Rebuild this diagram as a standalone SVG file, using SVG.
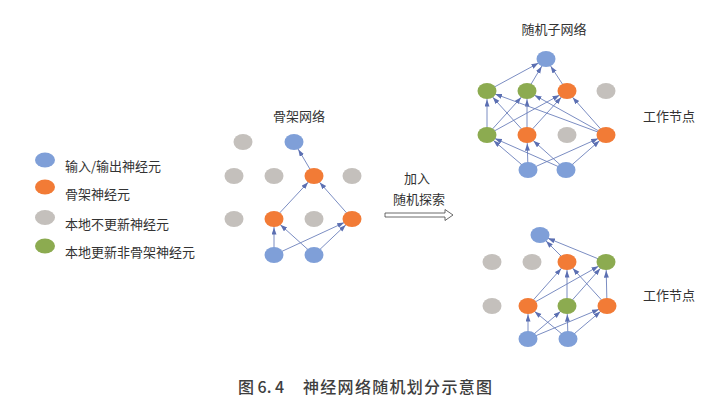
<svg xmlns="http://www.w3.org/2000/svg" width="718" height="411" viewBox="0 0 718 411">
<style>
.b{fill:#7f9fd8}.o{fill:#f27b36}.g{fill:#c4c0bc}.n{fill:#8cab50}
.t{font-family:"Noto Sans CJK SC","Noto Sans",sans-serif;fill:#333;font-size:13px}
.e line{stroke:#6c80bb;stroke-width:0.9;marker-end:url(#ah)}
</style>
<defs>
<marker id="ah" markerUnits="userSpaceOnUse" markerWidth="8" markerHeight="6" refX="15.6" refY="2.5" orient="auto">
<path d="M0,0 L7,2.5 L0,5 Z" fill="#5b6fb2"/>
</marker>
</defs>
<rect width="718" height="411" fill="#fff"/>
<g id="connectors" class="e">
<line x1="314" y1="176" x2="294" y2="142"/>
<line x1="274" y1="219" x2="314" y2="176"/>
<line x1="352" y1="219" x2="314" y2="176"/>
<line x1="274" y1="255" x2="274" y2="219"/>
<line x1="274" y1="255" x2="352" y2="219"/>
<line x1="314" y1="255" x2="274" y2="219"/>
<line x1="314" y1="255" x2="352" y2="219"/>
<line x1="487" y1="91" x2="546" y2="59"/>
<line x1="527" y1="91" x2="546" y2="59"/>
<line x1="567" y1="91" x2="546" y2="59"/>
<line x1="487" y1="135" x2="487" y2="91"/>
<line x1="487" y1="135" x2="527" y2="91"/>
<line x1="487" y1="135" x2="567" y2="91"/>
<line x1="527" y1="135" x2="487" y2="91"/>
<line x1="527" y1="135" x2="527" y2="91"/>
<line x1="527" y1="135" x2="567" y2="91"/>
<line x1="606" y1="135" x2="487" y2="91"/>
<line x1="606" y1="135" x2="527" y2="91"/>
<line x1="606" y1="135" x2="567" y2="91"/>
<line x1="528" y1="170" x2="487" y2="135"/>
<line x1="528" y1="170" x2="527" y2="135"/>
<line x1="528" y1="170" x2="606" y2="135"/>
<line x1="566" y1="170" x2="487" y2="135"/>
<line x1="566" y1="170" x2="527" y2="135"/>
<line x1="566" y1="170" x2="606" y2="135"/>
<line x1="567" y1="262" x2="540" y2="235"/>
<line x1="606" y1="262" x2="540" y2="235"/>
<line x1="528" y1="306" x2="567" y2="262"/>
<line x1="528" y1="306" x2="606" y2="262"/>
<line x1="567" y1="306" x2="567" y2="262"/>
<line x1="567" y1="306" x2="606" y2="262"/>
<line x1="607" y1="306" x2="567" y2="262"/>
<line x1="607" y1="306" x2="606" y2="262"/>
<line x1="528" y1="339" x2="528" y2="306"/>
<line x1="528" y1="339" x2="567" y2="306"/>
<line x1="528" y1="339" x2="607" y2="306"/>
<line x1="568" y1="339" x2="528" y2="306"/>
<line x1="568" y1="339" x2="567" y2="306"/>
<line x1="568" y1="339" x2="607" y2="306"/>
</g>
<g id="legend">
<g id="leg-io"><ellipse class="b" cx="45" cy="160" rx="10" ry="7.5"/><text class="t" x="65" y="171">输入/输出神经元</text></g>
<g id="leg-backbone"><ellipse class="o" cx="45" cy="187" rx="10" ry="7.5"/><text class="t" x="65" y="199">骨架神经元</text></g>
<g id="leg-fixed"><ellipse class="g" cx="45" cy="217.5" rx="10" ry="7.5"/><text class="t" x="65" y="229">本地不更新神经元</text></g>
<g id="leg-update"><ellipse class="n" cx="45" cy="246" rx="10" ry="7.5"/><text class="t" x="65" y="257">本地更新非骨架神经元</text></g>
</g>
<g id="mid">
<text class="t" x="299" y="121" text-anchor="middle" font-size="14">骨架网络</text>
<g id="m1"><ellipse class="g" cx="243" cy="142" rx="9.5" ry="8"/></g>
<g id="m2"><ellipse class="b" cx="294" cy="142" rx="9.5" ry="8"/></g>
<g id="m3"><ellipse class="g" cx="234" cy="176" rx="9.5" ry="8"/></g>
<g id="m4"><ellipse class="g" cx="274" cy="176" rx="9.5" ry="8"/></g>
<g id="m5"><ellipse class="o" cx="314" cy="176" rx="9.5" ry="8"/></g>
<g id="m6"><ellipse class="g" cx="352" cy="176" rx="9.5" ry="8"/></g>
<g id="m7"><ellipse class="g" cx="234" cy="219" rx="9.5" ry="8"/></g>
<g id="m8"><ellipse class="o" cx="274" cy="219" rx="9.5" ry="8"/></g>
<g id="m9"><ellipse class="g" cx="314" cy="219" rx="9.5" ry="8"/></g>
<g id="m10"><ellipse class="o" cx="352" cy="219" rx="9.5" ry="8"/></g>
<g id="m11"><ellipse class="b" cx="274" cy="255" rx="9.5" ry="8"/></g>
<g id="m12"><ellipse class="b" cx="314" cy="255" rx="9.5" ry="8"/></g>
</g>
<g id="explore">
<text class="t" x="417" y="183" text-anchor="middle">加入</text>
<text class="t" x="419" y="204" text-anchor="middle">随机探索</text>
<path d="M385,213 L445,213 L445,209.5 L453,215 L445,220.5 L445,217 L385,217 Z" fill="#fff" stroke="#444" stroke-width="0.8"/>
</g>
<g id="top">
<text class="t" x="554" y="34" text-anchor="middle" font-size="14">随机子网络</text>
<text class="t" x="643" y="121">工作节点</text>
<g id="t1"><ellipse class="b" cx="546" cy="59" rx="9.5" ry="8"/></g>
<g id="t2"><ellipse class="n" cx="487" cy="91" rx="9.5" ry="8"/></g>
<g id="t3"><ellipse class="n" cx="527" cy="91" rx="9.5" ry="8"/></g>
<g id="t4"><ellipse class="o" cx="567" cy="91" rx="9.5" ry="8"/></g>
<g id="t5"><ellipse class="g" cx="606" cy="91" rx="9.5" ry="8"/></g>
<g id="t6"><ellipse class="n" cx="487" cy="135" rx="9.5" ry="8"/></g>
<g id="t7"><ellipse class="o" cx="527" cy="135" rx="9.5" ry="8"/></g>
<g id="t8"><ellipse class="g" cx="567" cy="135" rx="9.5" ry="8"/></g>
<g id="t9"><ellipse class="o" cx="606" cy="135" rx="9.5" ry="8"/></g>
<g id="t10"><ellipse class="b" cx="528" cy="170" rx="9.5" ry="8"/></g>
<g id="t11"><ellipse class="b" cx="566" cy="170" rx="9.5" ry="8"/></g>
</g>
<g id="bottom">
<text class="t" x="643" y="300">工作节点</text>
<g id="b1"><ellipse class="b" cx="540" cy="235" rx="9.5" ry="8"/></g>
<g id="b2"><ellipse class="g" cx="492" cy="262" rx="9.5" ry="8"/></g>
<g id="b3"><ellipse class="g" cx="532" cy="262" rx="9.5" ry="8"/></g>
<g id="b4"><ellipse class="o" cx="567" cy="262" rx="9.5" ry="8"/></g>
<g id="b5"><ellipse class="n" cx="606" cy="262" rx="9.5" ry="8"/></g>
<g id="b6"><ellipse class="g" cx="492" cy="306" rx="9.5" ry="8"/></g>
<g id="b7"><ellipse class="o" cx="528" cy="306" rx="9.5" ry="8"/></g>
<g id="b8"><ellipse class="n" cx="567" cy="306" rx="9.5" ry="8"/></g>
<g id="b9"><ellipse class="o" cx="607" cy="306" rx="9.5" ry="8"/></g>
<g id="b10"><ellipse class="b" cx="528" cy="339" rx="9.5" ry="8"/></g>
<g id="b11"><ellipse class="b" cx="568" cy="339" rx="9.5" ry="8"/></g>
</g>
<g id="caption" font-family="'Noto Sans CJK SC','Noto Sans',sans-serif" font-size="16" font-weight="500" fill="#3e3e3e">
<text x="238" y="393">图 6. 4</text>
<text x="303" y="393" letter-spacing="1.3">神经网络随机划分示意图</text>
</g>
</svg>
